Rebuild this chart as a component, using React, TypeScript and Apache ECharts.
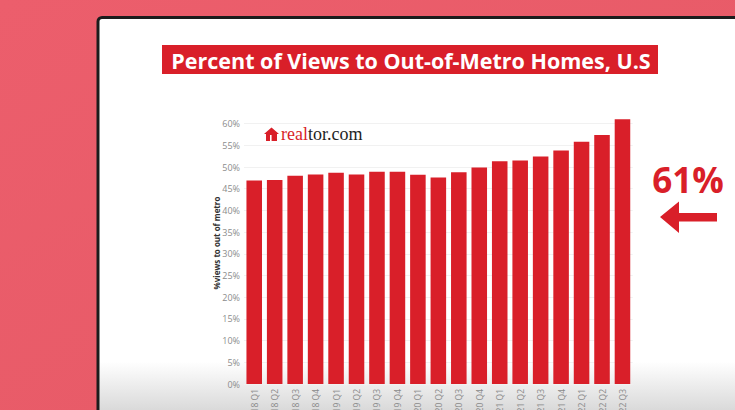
import React, { useEffect, useRef } from "react";
import * as echarts from "echarts";

const categories = [
  "2018 Q1", "2018 Q2", "2018 Q3", "2018 Q4",
  "2019 Q1", "2019 Q2", "2019 Q3", "2019 Q4",
  "2020 Q1", "2020 Q2", "2020 Q3", "2020 Q4",
  "2021 Q1", "2021 Q2", "2021 Q3", "2021 Q4",
  "2022 Q1", "2022 Q2", "2022 Q3",
];
const viewsShare = [
  46.9, 47.0, 48.0, 48.3, 48.7, 48.3, 48.9, 48.9, 48.2, 47.6,
  48.8, 49.9, 51.3, 51.5, 52.4, 53.8, 55.8, 57.4, 61.0,
];
const titleText = "Percent of Views to Out-of-Metro Homes, U.S";
const yAxisName = "%views to out of metro";
const highlightText = "61%";

const RED = "#d91f29";

export default function App() {
  const ref = useRef<HTMLDivElement>(null);
  useEffect(() => {
    if (!ref.current) return;
    const chart = echarts.init(ref.current, null, { renderer: "svg" });
    chart.setOption({
      animation: false,
      backgroundColor: {
        type: "linear", x: 0, y: 0, x2: 1, y2: 1,
        colorStops: [
          { offset: 0, color: "#ec5e6c" },
          { offset: 0.6, color: "#e85b68" },
          { offset: 1, color: "#ee6a76" },
        ],
      },
      graphic: [
        {
          type: "rect", z: -10,
          shape: { x: 98, y: 17.5, width: 700, height: 400, r: 4 },
          style: {
            fill: {
              type: "linear", x: 0, y: 0, x2: 0, y2: 1,
              colorStops: [
                { offset: 0, color: "#ffffff" },
                { offset: 0.86, color: "#ffffff" },
                { offset: 0.98, color: "#dadada" },
              ],
            },
            stroke: "#1c1c1c", lineWidth: 3,
          },
        },
        {
          type: "rect", z: 10,
          shape: { x: 162, y: 45, width: 496, height: 29 },
          style: { fill: RED },
        },
        {
          type: "text", z: 11, x: 411, y: 60,
          style: {
            text: titleText, fill: "#ffffff", fontSize: 21.5, fontWeight: "bold",
            fontFamily: "Open Sans", align: "center", verticalAlign: "middle",
          },
        },
        {
          type: "polygon", z: 11,
          shape: { points: [[271.5, 127.5], [279, 134], [277, 134], [277, 141], [266, 141], [266, 134], [264, 134]] },
          style: { fill: RED },
        },
        {
          type: "rect", z: 12,
          shape: { x: 270, y: 135, width: 1.6, height: 6 },
          style: { fill: "#ffffff" },
        },
        {
          type: "text", z: 11, x: 281, y: 134,
          style: {
            text: "{a|real}{b|tor.com}", fontSize: 18, fontFamily: "Liberation Serif",
            verticalAlign: "middle", align: "left",
            rich: {
              a: { fill: RED, fontSize: 18, fontFamily: "Liberation Serif" },
              b: { fill: "#1e1e1e", fontSize: 18, fontFamily: "Liberation Serif" },
            },
          },
        },
        {
          type: "text", z: 11, x: 216, y: 243, rotation: Math.PI / 2,
          style: {
            text: yAxisName, fill: "#333333", fontSize: 8, fontWeight: "bold",
            fontFamily: "Open Sans", align: "center", verticalAlign: "middle",
          },
        },
        {
          type: "text", z: 11, x: 688, y: 179,
          style: {
            text: highlightText, fill: RED, fontSize: 35, fontWeight: "bold",
            fontFamily: "Open Sans", align: "center", verticalAlign: "middle",
          },
        },
        {
          type: "polygon", z: 11,
          shape: { points: [[660, 217], [679, 201.5], [679, 213], [717, 213], [717, 221.5], [679, 221.5], [679, 233]] },
          style: { fill: RED },
        },
      ],
      grid: {
        left: 244, right: 102.3, top: 123.6, bottom: 26,
        containLabel: false, outerBoundsMode: "none",
      },
      xAxis: {
        type: "category",
        data: categories,
        axisLine: { show: false },
        axisTick: { show: false },
        axisLabel: {
          rotate: 90, interval: 0, fontSize: 8.5, color: "#8a8a8a",
          fontFamily: "Open Sans", margin: 5,
        },
        z: 5,
      },
      yAxis: {
        type: "value",
        min: 0, max: 60, interval: 5,
        axisLine: { show: false },
        axisTick: { show: false },
        axisLabel: {
          formatter: "{value}%", fontSize: 9, color: "#8c8c8c",
          fontFamily: "Open Sans", margin: 4,
        },
        splitLine: { lineStyle: { color: "#f1f1f1", width: 1 } },
        z: 5,
      },
      series: [
        {
          type: "bar",
          data: viewsShare,
          barWidth: "76%",
          clip: false,
          itemStyle: { color: RED },
          z: 6,
        },
      ],
    });
    return () => chart.dispose();
  }, []);
  return (
    <div
      ref={ref}
      style={{ position: "fixed", left: 0, top: 0, width: 735, height: 410 }}
    />
  );
}
